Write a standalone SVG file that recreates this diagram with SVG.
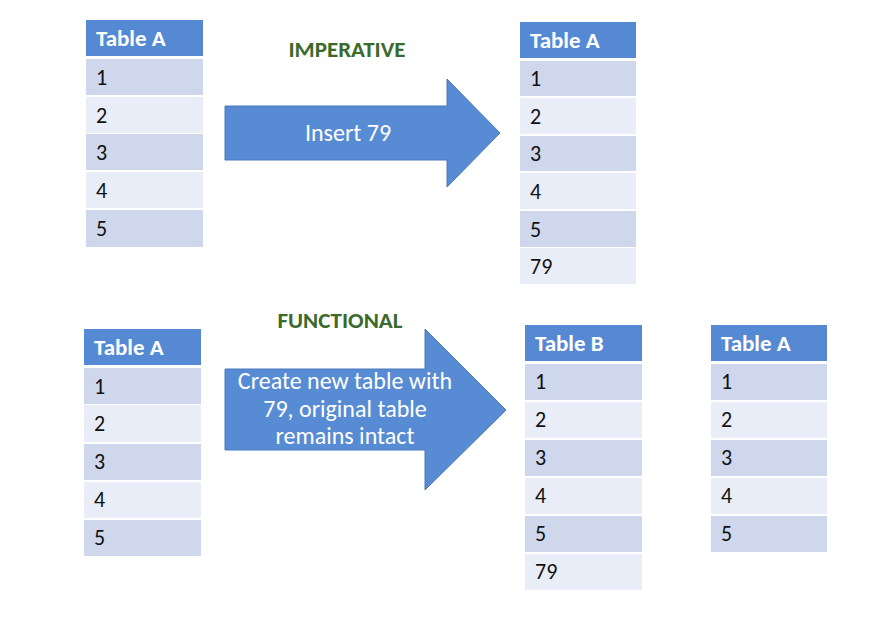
<svg xmlns="http://www.w3.org/2000/svg" width="884" height="644" viewBox="0 0 884 644">
<style>
.hd{fill:#5589d4}
.r1{fill:#cfd7ed}
.r2{fill:#e9edf7}
.ht{font-family:Carlito,Lato,"Open Sans",sans-serif;font-weight:bold;font-size:23px;fill:#ffffff}
.ct{font-family:Carlito,Lato,"Open Sans",sans-serif;font-size:22px;fill:#111111}
.lbl{font-family:Carlito,Lato,"Open Sans",sans-serif;font-weight:bold;font-size:23px;fill:#3b6a2a;text-anchor:middle}
.arr{fill:#578bd4;stroke:#4a78ba;stroke-width:1}
.at{font-family:Carlito,Lato,"Open Sans",sans-serif;font-size:24px;fill:#ffffff;text-anchor:middle}
</style>
<rect width="884" height="644" fill="#ffffff"/>
<g id="label-imperative"><text class="lbl" x="347" y="57">IMPERATIVE</text></g>
<g id="label-functional"><text class="lbl" x="340" y="328">FUNCTIONAL</text></g>

<g id="table-a-before">
<rect class="hd" x="86" y="20" width="117" height="36"/>
<text class="ht" x="96" y="46">Table A</text>
<rect class="r1" x="86" y="59" width="117" height="36"/><text class="ct" x="96" y="85">1</text>
<rect class="r2" x="86" y="97" width="117" height="36"/><text class="ct" x="96" y="123">2</text>
<rect class="r1" x="86" y="134" width="117" height="36"/><text class="ct" x="96" y="160">3</text>
<rect class="r2" x="86" y="172" width="117" height="36"/><text class="ct" x="96" y="198">4</text>
<rect class="r1" x="86" y="210" width="117" height="37"/><text class="ct" x="96" y="236">5</text>
</g>

<g id="table-a-after">
<rect class="hd" x="520" y="22" width="116" height="36"/>
<text class="ht" x="530" y="48">Table A</text>
<rect class="r1" x="520" y="61" width="116" height="35"/><text class="ct" x="530" y="86">1</text>
<rect class="r2" x="520" y="98" width="116" height="36"/><text class="ct" x="530" y="124">2</text>
<rect class="r1" x="520" y="136" width="116" height="35"/><text class="ct" x="530" y="161">3</text>
<rect class="r2" x="520" y="173" width="116" height="36"/><text class="ct" x="530" y="199">4</text>
<rect class="r1" x="520" y="211" width="116" height="36"/><text class="ct" x="530" y="237">5</text>
<rect class="r2" x="520" y="248" width="116" height="36"/><text class="ct" x="530" y="274">79</text>
</g>

<g id="table-a-func">
<rect class="hd" x="84" y="329" width="117" height="36"/>
<text class="ht" x="94" y="355">Table A</text>
<rect class="r1" x="84" y="368" width="117" height="36"/><text class="ct" x="94" y="394">1</text>
<rect class="r2" x="84" y="405" width="117" height="37"/><text class="ct" x="94" y="431">2</text>
<rect class="r1" x="84" y="444" width="117" height="36"/><text class="ct" x="94" y="469">3</text>
<rect class="r2" x="84" y="482" width="117" height="36"/><text class="ct" x="94" y="507">4</text>
<rect class="r1" x="84" y="520" width="117" height="36"/><text class="ct" x="94" y="545">5</text>
</g>

<g id="table-b">
<rect class="hd" x="525" y="325" width="117" height="36"/>
<text class="ht" x="535" y="351">Table B</text>
<rect class="r1" x="525" y="364" width="117" height="36"/><text class="ct" x="535" y="389">1</text>
<rect class="r2" x="525" y="402" width="117" height="36"/><text class="ct" x="535" y="427">2</text>
<rect class="r1" x="525" y="440" width="117" height="36"/><text class="ct" x="535" y="465">3</text>
<rect class="r2" x="525" y="478" width="117" height="36"/><text class="ct" x="535" y="503">4</text>
<rect class="r1" x="525" y="516" width="117" height="36"/><text class="ct" x="535" y="541">5</text>
<rect class="r2" x="525" y="554" width="117" height="36"/><text class="ct" x="535" y="579">79</text>
</g>

<g id="table-a-unchanged">
<rect class="hd" x="711" y="325" width="116" height="36"/>
<text class="ht" x="721" y="351">Table A</text>
<rect class="r1" x="711" y="364" width="116" height="36"/><text class="ct" x="721" y="389">1</text>
<rect class="r2" x="711" y="402" width="116" height="36"/><text class="ct" x="721" y="427">2</text>
<rect class="r1" x="711" y="440" width="116" height="36"/><text class="ct" x="721" y="465">3</text>
<rect class="r2" x="711" y="478" width="116" height="36"/><text class="ct" x="721" y="503">4</text>
<rect class="r1" x="711" y="516" width="116" height="36"/><text class="ct" x="721" y="541">5</text>
</g>

<g id="connectors">
<g id="arrow-insert">
<polygon class="arr" points="225,106 447,106 447,79 500,133 447,187 447,160 225,160"/>
<text class="at" x="348" y="141">Insert 79</text>
</g>
<g id="arrow-create">
<polygon class="arr" points="225,369 425,369 425,329 506,410 425,490 425,450 225,450"/>
<text class="at" x="345" y="389">Create new table with</text>
<text class="at" x="345" y="417">79, original table</text>
<text class="at" x="345" y="444">remains intact</text>
</g>
</g>
</svg>
